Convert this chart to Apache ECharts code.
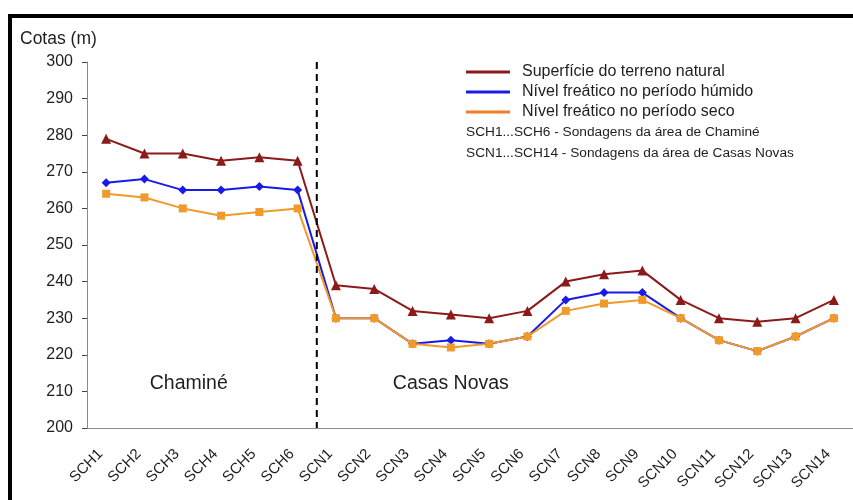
<!DOCTYPE html>
<html>
<head>
<meta charset="utf-8">
<script src="https://cdn.jsdelivr.net/npm/echarts@6/dist/echarts.min.js"></script>
<style>
  html, body { margin: 0; padding: 0; background: #fff; }
  #chart { width: 853px; height: 500px; }
</style>
</head>
<body>
<div id="chart"></div>
<script>
// Boreholes: Chaminé (SCH) and Casas Novas (SCN)
const categories = [
  'SCH1', 'SCH2', 'SCH3', 'SCH4', 'SCH5', 'SCH6',
  'SCN1', 'SCN2', 'SCN3', 'SCN4', 'SCN5', 'SCN6', 'SCN7',
  'SCN8', 'SCN9', 'SCN10', 'SCN11', 'SCN12', 'SCN13', 'SCN14'
];

// Elevations in metres
const terreno = [279, 275, 275, 273, 274, 273, 239, 238, 232, 231, 230, 232, 240, 242, 243, 235, 230, 229, 230, 235];
const humido  = [267, 268, 265, 265, 266, 265, 230, 230, 223, 224, 223, 225, 235, 237, 237, 230, 224, 221, 225, 230];
const seco    = [264, 263, 260, 258, 259, 260, 230, 230, 223, 222, 223, 225, 232, 234, 235, 230, 224, 221, 225, 230];

const seriesNames = [
  'Superfície do terreno natural',
  'Nível freático no período húmido',
  'Nível freático no período seco'
];
const notes = [
  'SCH1...SCH6 - Sondagens da área de Chaminé',
  'SCN1...SCH14 - Sondagens da área de Casas Novas'
];
const areaNames = ['Chaminé', 'Casas Novas'];
const lastChamine = 'SCH6';   // boundary between the two areas follows this borehole

const yTicks = { min: 200, max: 300, interval: 10 };
const FONT = 'Liberation Sans, Arial, sans-serif';
const INK = '#1e1e1e';

const colors = { terreno: '#8b1a1a', humido: '#1a1ae6', seco: '#f09a2a', secoLegend: '#f07f2a' };

const chart = echarts.init(document.getElementById('chart'), null, { renderer: 'canvas' });

function lineSeries(name, data, color, symbol, size) {
  return {
    name: name,
    type: 'line',
    data: data,
    symbol: symbol,
    symbolSize: size,
    showAllSymbol: true,
    lineStyle: { color: color, width: 2 },
    itemStyle: { color: color },
    z: 3
  };
}

const frame = [
  { type: 'rect', shape: { x: 8, y: 14, width: 845, height: 4 }, style: { fill: '#000' } },
  { type: 'rect', shape: { x: 8, y: 14, width: 4, height: 486 }, style: { fill: '#000' } },
  { type: 'text', left: 466, top: 125, style: { text: notes[0], font: '13.7px ' + FONT, fill: INK } },
  { type: 'text', left: 466, top: 146, style: { text: notes[1], font: '13.7px ' + FONT, fill: INK } }
];

const option = {
  animation: false,
  backgroundColor: '#fff',
  textStyle: { fontFamily: FONT },
  grid: { left: 87, right: 0, top: 62, bottom: 72, containLabel: false },
  legend: {
    orient: 'vertical',
    left: 466,
    top: 64,
    padding: 0,
    itemWidth: 44,
    itemHeight: 3,
    itemGap: 4,
    icon: 'rect',
    data: [
      { name: seriesNames[0], itemStyle: { color: colors.terreno } },
      { name: seriesNames[1], itemStyle: { color: colors.humido } },
      { name: seriesNames[2], itemStyle: { color: colors.secoLegend } }
    ],
    textStyle: { fontFamily: FONT, fontSize: 16, color: INK, padding: [0, 0, 0, 7] },
    selectedMode: false
  },
  xAxis: {
    type: 'category',
    data: categories,
    boundaryGap: true,
    axisLine: { lineStyle: { color: '#8a8a8a', width: 1 } },
    axisTick: { alignWithLabel: true, length: 5, lineStyle: { color: '#555' } },
    axisLabel: {
      rotate: 45,
      interval: 0,
      margin: 18,
      padding: [0, 8, 0, 0],
      fontFamily: FONT,
      fontSize: 15,
      color: INK
    },
    splitLine: { show: false }
  },
  yAxis: {
    type: 'value',
    min: yTicks.min,
    max: yTicks.max,
    interval: yTicks.interval,
    name: 'Cotas (m)',
    nameLocation: 'end',
    nameGap: 14,
    nameTextStyle: { fontFamily: FONT, fontSize: 17.5, color: INK, align: 'left', padding: [0, 0, 0, -67] },
    axisLine: { show: true, lineStyle: { color: '#8a8a8a', width: 1 } },
    axisTick: { show: true, length: 5, lineStyle: { color: '#444' } },
    axisLabel: { fontFamily: FONT, fontSize: 16, color: INK, margin: 14 },
    splitLine: { show: false }
  },
  series: [
    lineSeries(seriesNames[0], terreno, colors.terreno, 'triangle', 10),
    lineSeries(seriesNames[1], humido, colors.humido, 'diamond', 9),
    lineSeries(seriesNames[2], seco, colors.seco, 'rect', 8)
  ],
  graphic: frame
};

chart.setOption(option);

// Area divider and captions, placed from the axis scales
const iLast = categories.indexOf(lastChamine);
const xDiv = (chart.convertToPixel({ xAxisIndex: 0 }, iLast) + chart.convertToPixel({ xAxisIndex: 0 }, iLast + 1)) / 2;
const yTop = chart.convertToPixel({ yAxisIndex: 0 }, yTicks.max);
const yBot = chart.convertToPixel({ yAxisIndex: 0 }, yTicks.min);
const capY = chart.convertToPixel({ yAxisIndex: 0 }, 212);
const capA = chart.convertToPixel({ xAxisIndex: 0 }, 2) + 6;
const capB = chart.convertToPixel({ xAxisIndex: 0 }, 9);

chart.setOption({
  graphic: frame.concat([
    { type: 'line', shape: { x1: xDiv, y1: yTop, x2: xDiv, y2: yBot }, style: { stroke: '#000', lineWidth: 2, lineDash: [7, 5] }, z: 10 },
    { type: 'text', x: capA, y: capY, style: { text: areaNames[0], font: '19.5px ' + FONT, fill: INK, align: 'center', verticalAlign: 'middle' } },
    { type: 'text', x: capB, y: capY, style: { text: areaNames[1], font: '19.5px ' + FONT, fill: INK, align: 'center', verticalAlign: 'middle' } }
  ])
}, { replaceMerge: ['graphic'] });
</script>
</body>
</html>
